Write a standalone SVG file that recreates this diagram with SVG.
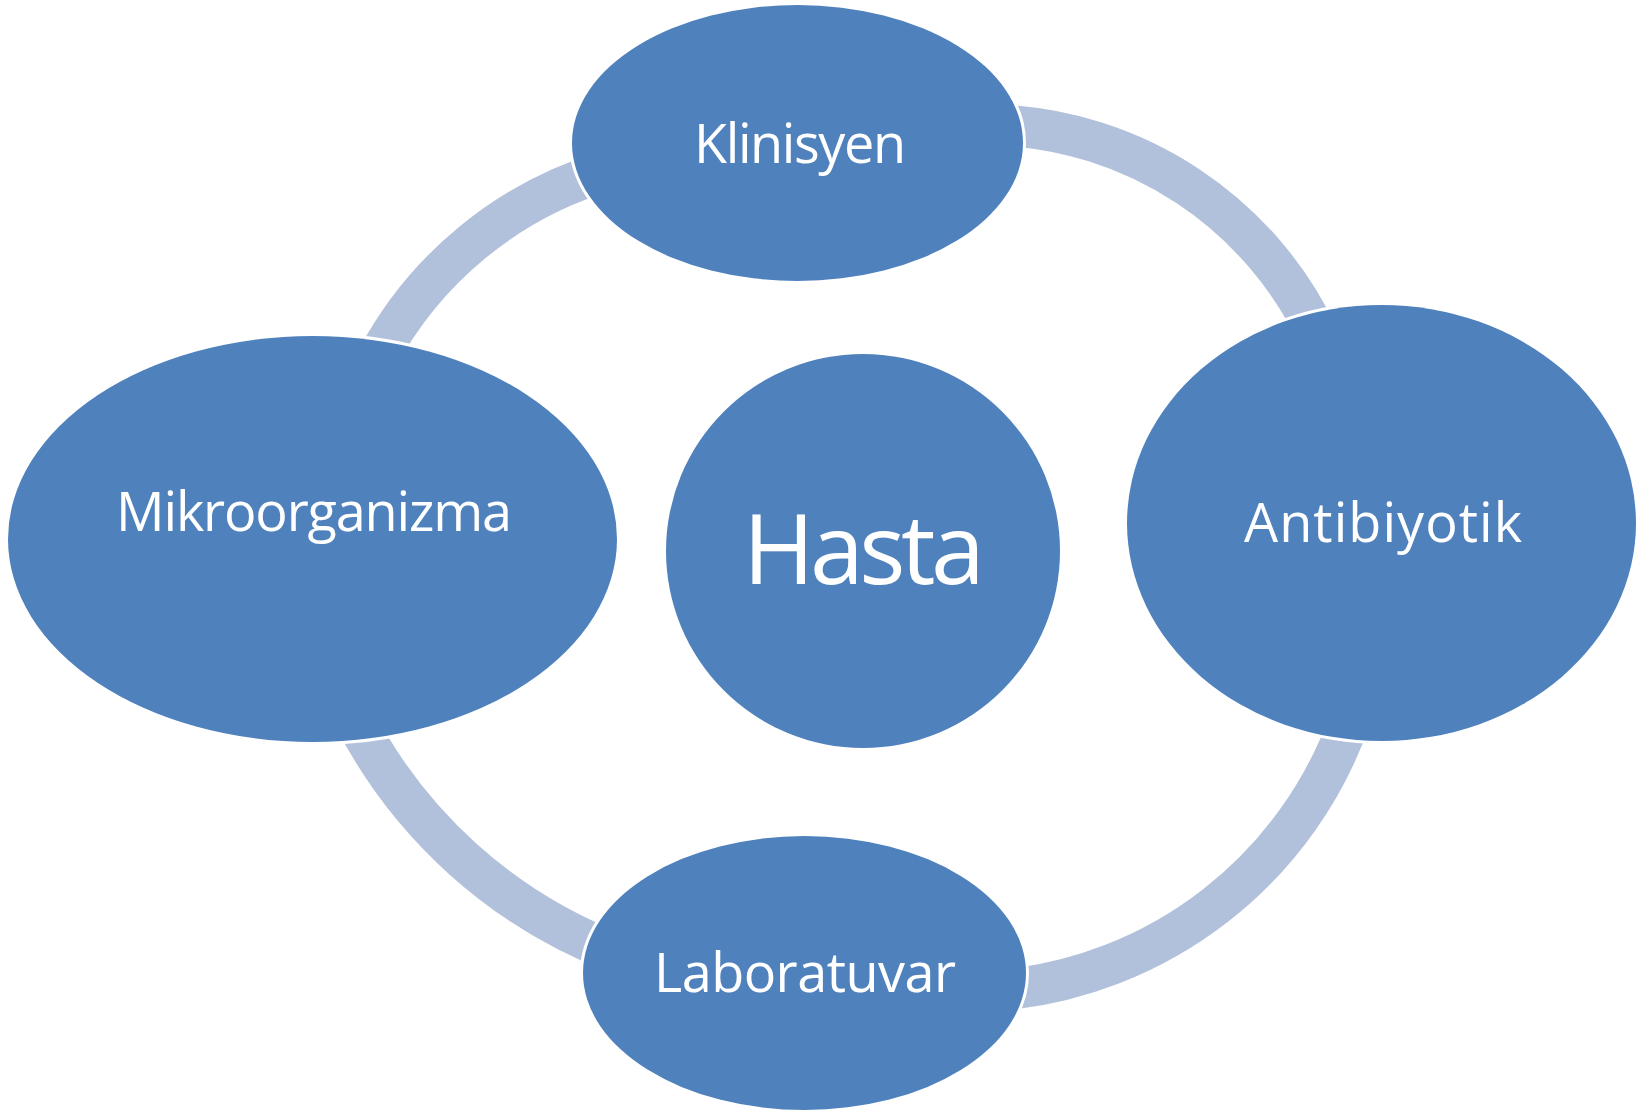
<svg xmlns="http://www.w3.org/2000/svg" width="1648" height="1114" viewBox="0 0 1648 1114">
<style>
.arc{fill:none;stroke:#B2C1DB;stroke-width:41}
.node{fill:#4F81BD;stroke:#FFFFFF;stroke-width:6;paint-order:stroke}
.lbl{font-family:"Open Sans","Liberation Sans",sans-serif;font-size:54px;fill:#FFFFFF;text-anchor:middle}
.big{font-family:"Open Sans","Liberation Sans",sans-serif;font-size:97px;fill:#FFFFFF;text-anchor:middle}
</style>
<rect width="1648" height="1114" fill="#FFFFFF"/>
<g id="connectors">
<path class="arc" d="M 376.8 359.2 A 385.6 385.6 0 0 1 604.5 171.5"/>
<path class="arc" d="M 996.8 125.0 A 369.9 369.9 0 0 1 1319.1 338.4"/>
<path class="arc" d="M 1351.3 715.6 A 410 410 0 0 1 999.3 990.5"/>
<path class="arc" d="M 616.5 953.1 A 494.5 494.5 0 0 1 353.1 715.9"/>
</g>
<g id="klinisyen">
<ellipse class="node" cx="797.5" cy="143" rx="225.5" ry="138"/>
<text class="lbl" x="800" y="163" textLength="212">Klinisyen</text>
</g>
<g id="mikroorganizma">
<ellipse class="node" cx="312.5" cy="539" rx="304.5" ry="203"/>
<text class="lbl" x="314" y="531" textLength="396">Mikroorganizma</text>
</g>
<g id="antibiyotik">
<ellipse class="node" cx="1381.5" cy="523" rx="254.5" ry="218"/>
<text class="lbl" x="1383" y="542" textLength="278">Antibiyotik</text>
</g>
<g id="laboratuvar">
<ellipse class="node" cx="804.5" cy="973" rx="221.5" ry="137"/>
<text class="lbl" x="805" y="992" textLength="302">Laboratuvar</text>
</g>
<g id="hasta">
<circle class="node" cx="863" cy="551" r="197"/>
<text class="big" x="864" y="584" textLength="242">Hasta</text>
</g>
</svg>
